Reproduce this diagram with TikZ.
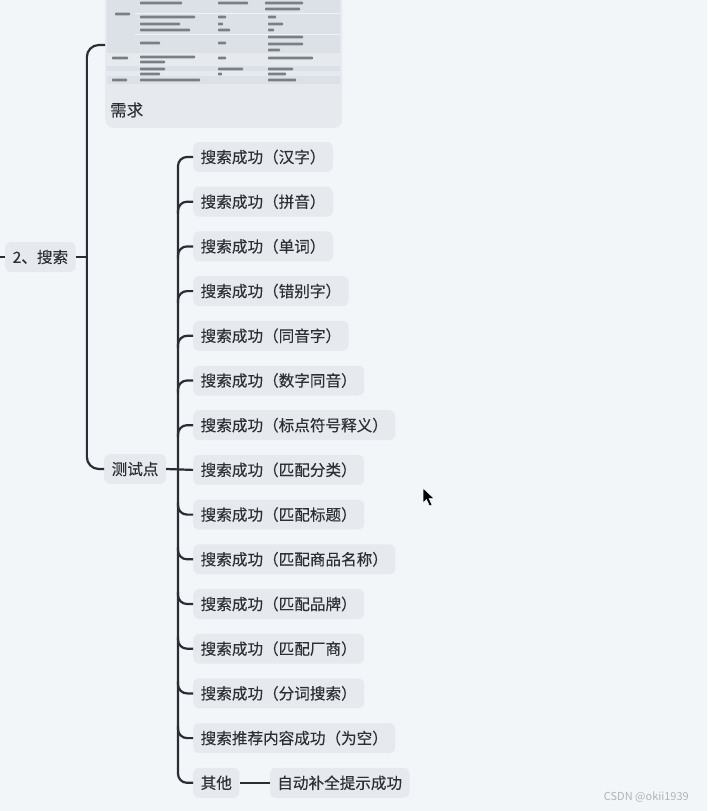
\documentclass[tikz,border=0pt]{standalone}
\usepackage{fontspec}
\setmainfont{Noto Sans CJK SC}
\newfontfamily\topicfont[FakeBold=0.25]{Noto Sans CJK SC}
\usetikzlibrary{positioning, calc}
\definecolor{mapBg}{HTML}{F3F6F9}
\definecolor{topicFill}{HTML}{E6EAEF}
\definecolor{lineDark}{HTML}{2A2D33}
\definecolor{textDark}{HTML}{2C3036}
\definecolor{sheetGray}{HTML}{DCE1E7}
\definecolor{inkGray}{HTML}{7A7F86}
\newcommand{\cellbar}[3]{\fill[inkGray, rounded corners=0.8] (#1,#2-1.4) rectangle ++(#3,2.8);}

\begin{document}
\begin{tikzpicture}[x=1pt, y=-1pt,
    topic/.style={fill=topicFill, rounded corners=6pt, text=textDark,
      font=\topicfont\fontsize{15.6}{18}\selectfont, minimum height=30pt,
      inner xsep=7.5pt, inner ysep=0pt, anchor=west},
    branch/.style={draw=lineDark, line width=2.2pt, rounded corners=9pt}]
  \fill[mapBg] (0,0) rectangle (707,811);
  \useasboundingbox (0,0) rectangle (707,811);

  % requirement card with the table screenshot
  \node[fill=topicFill, rounded corners=8pt, minimum width=237pt,
    minimum height=140pt, anchor=south west, inner sep=0pt] (xuqiu) at (105,128) {};
  \fill[sheetGray] (107,-2) rectangle (340,53);
  \fill[sheetGray] (107,66) rectangle (340,71);
  \fill[sheetGray] (107,76) rectangle (340,84);
  \foreach \ly in {13,34} \draw[white!60!sheetGray, line width=0.6pt] (135,\ly) -- (340,\ly);
  \foreach \bx/\by/\bw in {140/3/42, 218/3/30, 265/3/38, 265/9/35, 115/14/15,
      140/17/55, 218/17/8, 268/17/8, 140/24/40, 218/24/5, 268/24/15,
      140/30/50, 218/30/12, 268/30/6, 140/43/20, 218/43/8,
      268/37/35, 268/44/35, 268/50/12, 112/58/16, 140/57/55, 140/62/25,
      218/58/8, 268/58/45, 140/69/25, 218/69/25, 268/69/25,
      140/74/20, 218/74/4, 268/74/18, 112/80/15, 140/80/60, 268/80/28}
    \cellbar{\bx}{\by}{\bw};
  \node[anchor=west, text=textDark, font=\topicfont\fontsize{16.5}{19}\selectfont,
    inner sep=0pt] (xqlabel) at (110,110) {需求};
  \coordinate (xqin) at (105,45);

  % central topic and its two branches
  \node[topic] (sousuo) at (5,257) {2、搜索};
  \coordinate (lead) at (0,257);
  \draw[branch] (lead) -- (sousuo.west);
  \draw[branch] (sousuo.east) -- ++(11,0) coordinate (hub);
  \node[topic] (ceshi) at (104,469) {测试点};
  \draw[branch, rounded corners=12pt] (xqin) -| (hub) |- (ceshi.west);

  % test points
  \foreach \lbl [count=\i] in {搜索成功（汉字）, 搜索成功（拼音）, 搜索成功（单词）,
      搜索成功（错别字）, 搜索成功（同音字）, 搜索成功（数字同音）,
      搜索成功（标点符号释义）, 搜索成功（匹配分类）, 搜索成功（匹配标题）,
      搜索成功（匹配商品名称）, 搜索成功（匹配品牌）, 搜索成功（匹配厂商）,
      搜索成功（分词搜索）, 搜索推荐内容成功（为空）, 其他}
    \node[topic] (c\i) at (193,{157+(\i-1)*44.7}) {\lbl};
  \draw[branch] (c1.west) -| ($(c8.west)+(-15,0)$) |- (c15.west);
  \draw[branch] (ceshi.east) -- (c8.west);
  \foreach \i in {2,...,7}
    \draw[branch] ($(c\i.west)+(-15,12)$) |- (c\i.west);
  \foreach \i in {9,...,14}
    \draw[branch] ($(c\i.west)+(-15,-12)$) |- (c\i.west);

  \node[topic, right=30pt of c15] (zidong) {自动补全提示成功};
  \draw[branch, line width=1.8pt] (c15.east) -- (zidong.west);

  % mouse pointer and watermark
  \fill[black, draw=white, line width=0.5pt] (423,488) -- (423,503) -- (426.5,499.5)
    -- (429.5,506) -- (432,505) -- (429,498.5) -- (434,498.5) -- cycle;
  \node[anchor=east, text=black!30, font=\fontsize{11}{13}\selectfont,
    inner sep=0pt] (mark) at (689,797) {CSDN @okii1939};
\end{tikzpicture}
\end{document}
